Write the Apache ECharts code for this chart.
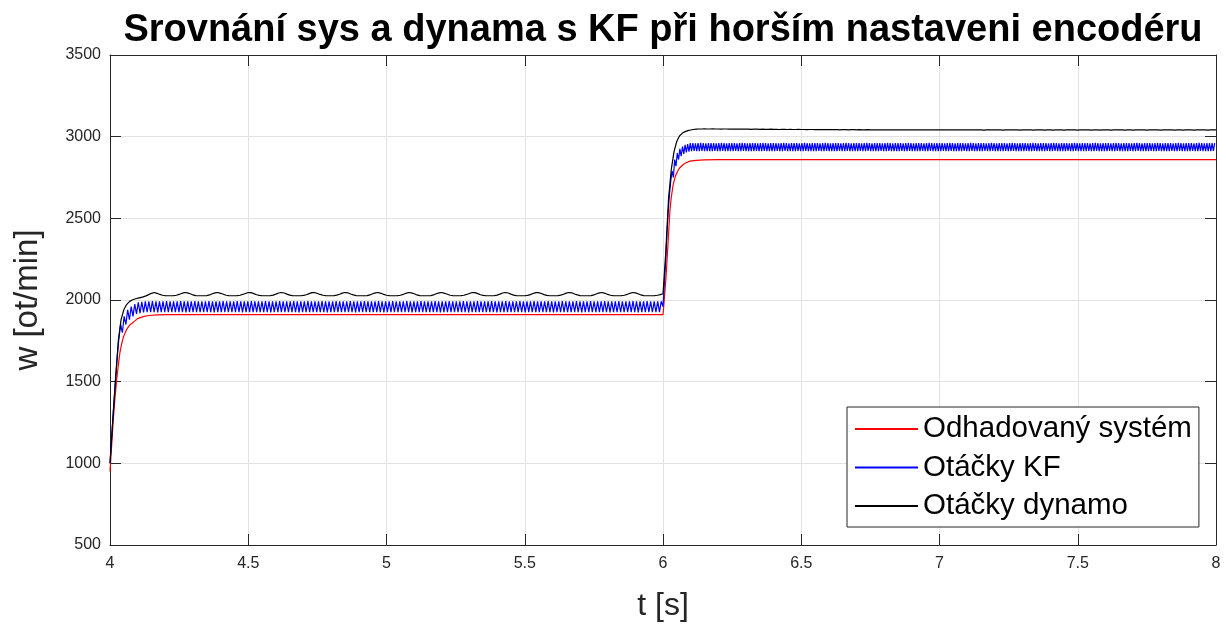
<!DOCTYPE html>
<html>
<head>
<meta charset="utf-8">
<script src="https://cdn.jsdelivr.net/npm/echarts@6/dist/echarts.min.js"></script>
<style>html,body{margin:0;padding:0;background:#fff;}#chart{width:1226px;height:630px;}</style>
</head>
<body>
<div id="chart"></div>
<script>
// ---- Data ----
const titleText = 'Srovnání sys a dynama s KF při horším nastaveni encodéru';
const seriesNames = ['Odhadovaný systém', 'Otáčky KF', 'Otáčky dynamo'];
const seriesColors = ['#ff0000', '#0000ff', '#000000'];
const xTicks = [4, 4.5, 5, 5.5, 6, 6.5, 7, 7.5, 8];
const yTicks = [500, 1000, 1500, 2000, 2500, 3000, 3500];

// Odhadovaný systém: time / value pairs
const redT = [4.000,4.006,4.012,4.018,4.024,4.030,4.036,4.042,4.048,4.056,4.064,4.072,4.080,4.090,4.100,4.120,4.140,4.170,4.220,6.000,6.005,6.010,6.013,6.020,6.025,6.030,6.037,6.045,6.055,6.061,6.070,6.080,6.097,6.120,6.150,6.200,8.000];
const redV = [950,1110,1270,1400,1510,1600,1680,1730,1770,1805,1830,1848,1858,1872,1886,1898,1905,1909,1910,1910,2010,2120,2197,2400,2545,2630,2708,2760,2795,2810,2825,2837,2850,2855,2858,2860,2860];

// Otáčky KF: samples evenly spaced over 4..6 s and 6..8 s
const blueSeg1 = [1000,1170,1340,1500,1640,1760,1850,1800,1900,1850,1940,1880,1960,1900,1975,1915,1985,1920,1988,1924,
1992,1925,1991,1926,1993,1925,1992,1924,1991,1926,1992,1925,1993,1926,1991,1925,
1992,1925,1991,1926,1993,1925,1992,1924,1991,1926,1992,1925,1993,1926,1991,1925,
1992,1925,1991,1926,1993,1925,1992,1924,1991,1926,1992,1925,1993,1926,1991,1925,
1992,1925,1991,1926,1993,1925,1992,1924,1991,1926,1992,1925,1993,1926,1991,1925,
1992,1925,1991,1926,1993,1925,1992,1924,1991,1926,1992,1925,1993,1926,1991,1925,
1992,1925,1991,1926,1993,1925,1992,1924,1991,1926,1992,1925,1993,1926,1991,1925,
1992,1925,1991,1926,1993,1925,1992,1924,1991,1926,1992,1925,1993,1926,1991,1925,
1992,1925,1991,1926,1993,1925,1992,1924,1991,1926,1992,1925,1993,1926,1991,1925,
1992,1925,1991,1926,1993,1925,1992,1924,1991,1926,1992,1925,1993,1926,1991,1925,
1992,1925,1991,1926,1993,1925,1992,1924,1991,1926,1992,1925,1993,1926,1991,1925,
1992,1925,1991,1926,1993,1925,1992,1924,1991,1926,1992,1925,1993,1926,1991,1925,
1992,1925,1991,1926,1993,1925,1992,1924,1991,1926,1992,1925,1993,1926,1991,1925,
1992,1925,1991,1926,1993,1925,1992,1924,1991,1926,1992,1925,1993,1926,1991,1925,
1992,1925,1991,1926,1993,1925,1992,1924,1991,1926,1992,1925,1993,1926,1991,1925,
1992,1925,1991,1926,1993,1925,1992,1924,1991,1926,1992,1925,1993,1926,1991,1925,
1992,1925,1991,1926,1993,1925,1992,1924,1991,1926,1992,1925,1993,1926,1991,1925,
1992,1925,1991,1926,1993,1925,1992,1924,1991,1926,1992,1925,1993,1926,1991,1925,
1992,1925,1991,1926,1993,1925,1992,1924,1991,1926,1992,1925,1993,1926,1991,1925,
1992,1925,1991,1926,1992];
const blueSeg2 = [1960,2100,2230,2400,2540,2650,2730,2790,2750,2860,2820,2900,2860,2925,2880,2940,2895,2950,2903,2955,2908,
2960,2912,2961,2913,2959,2911,2960,2912,2962,2913,2960,2911,2959,2912,2961,2912,
2960,2912,2961,2913,2959,2911,2960,2912,2962,2913,2960,2911,2959,2912,2961,2912,
2960,2912,2961,2913,2959,2911,2960,2912,2962,2913,2960,2911,2959,2912,2961,2912,
2960,2912,2961,2913,2959,2911,2960,2912,2962,2913,2960,2911,2959,2912,2961,2912,
2960,2912,2961,2913,2959,2911,2960,2912,2962,2913,2960,2911,2959,2912,2961,2912,
2960,2912,2961,2913,2959,2911,2960,2912,2962,2913,2960,2911,2959,2912,2961,2912,
2960,2912,2961,2913,2959,2911,2960,2912,2962,2913,2960,2911,2959,2912,2961,2912,
2960,2912,2961,2913,2959,2911,2960,2912,2962,2913,2960,2911,2959,2912,2961,2912,
2960,2912,2961,2913,2959,2911,2960,2912,2962,2913,2960,2911,2959,2912,2961,2912,
2960,2912,2961,2913,2959,2911,2960,2912,2962,2913,2960,2911,2959,2912,2961,2912,
2960,2912,2961,2913,2959,2911,2960,2912,2962,2913,2960,2911,2959,2912,2961,2912,
2960,2912,2961,2913,2959,2911,2960,2912,2962,2913,2960,2911,2959,2912,2961,2912,
2960,2912,2961,2913,2959,2911,2960,2912,2962,2913,2960,2911,2959,2912,2961,2912,
2960,2912,2961,2913,2959,2911,2960,2912,2962,2913,2960,2911,2959,2912,2961,2912,
2960,2912,2961,2913,2959,2911,2960,2912,2962,2913,2960,2911,2959,2912,2961,2912,
2960,2912,2961,2913,2959,2911,2960,2912,2962,2913,2960,2911,2959,2912,2961,2912,
2960,2912,2961,2913,2959,2911,2960,2912,2962,2913,2960,2911,2959,2912,2961,2912,
2960,2912,2961,2913,2959,2911,2960,2912,2962,2913,2960,2911,2959,2912,2961,2912,
2960,2912,2961,2913,2959,2911,2960,2912,2962,2913,2960,2911,2959,2912,2961,2912,
2960,2912,2961,2913,2959,2911,2960,2912,2962,2913,2960,2911,2959,2912,2961,2912,
2960,2912,2961,2913,2959,2911,2960,2912,2962,2913,2960,2911,2959,2912,2961,2912,
2960,2912,2961,2913,2959,2911,2960,2912,2962,2913,2960,2911,2959,2912,2961,2912,
2960,2912,2961,2913,2959,2911,2960,2912,2962,2913,2960,2911,2959,2912,2961,2912,
2960,2912,2961,2913,2959,2911,2960,2912,2962,2913,2960,2911,2959,2912,2961,2912,
2960,2912,2961,2913,2959,2911,2960,2912,2962,2913,2960,2911,2959,2912,2961,2912,
2960,2912,2961,2913,2960];

// Otáčky dynamo: samples every 0.01 s from 4.00 to 8.00 s
const blackV = [
1000,1260,1510,1750,1880,1940,1972,1990,2000,2006,
2011,2015,2019,2025,2033,2041,2046,2041,2034,2029,
2027,2026,2026,2027,2029,2034,2041,2046,2044,2038,
2031,2027,2026,2026,2026,2027,2031,2038,2044,2046,
2041,2035,2029,2027,2026,2026,2027,2029,2034,2040,
2046,2045,2039,2032,2028,2026,2026,2026,2027,2030,
2036,2043,2046,2043,2036,2030,2027,2026,2026,2026,
2028,2032,2039,2045,2046,2040,2034,2029,2027,2026,
2026,2027,2030,2035,2042,2046,2044,2037,2031,2027,
2026,2026,2026,2027,2031,2038,2044,2046,2041,2034,
2029,2027,2026,2026,2027,2029,2034,2041,2046,2044,
2038,2031,2027,2026,2026,2026,2027,2031,2038,2044,
2046,2041,2035,2029,2027,2026,2026,2027,2029,2034,
2040,2046,2045,2039,2032,2028,2026,2026,2026,2027,
2030,2036,2043,2046,2043,2036,2030,2027,2026,2026,
2026,2028,2033,2040,2045,2045,2040,2033,2028,2026,
2026,2026,2027,2030,2035,2042,2046,2044,2037,2031,
2027,2026,2026,2026,2027,2031,2038,2044,2046,2041,
2034,2029,2027,2026,2026,2027,2029,2034,2041,2046,
2044,2038,2031,2027,2026,2026,2026,2027,2029,2033,
2038,2290,2620,2800,2910,2972,3005,3022,3031,3037,
3041,3044,3046,
3047,3047,3048,3047,3047,3048,3047,
3047,3046,3047,3047,3046,3047,3046,3046,3047,3046,
3046,3046,3045,3046,3046,3045,3046,3045,3045,3046,
3045,3045,3044,3045,3045,3044,3045,3044,3044,3045,
3044,3044,3043,3044,3044,3043,3044,3043,3044,3043,
3043,3044,3043,3043,3042,3043,3043,3042,3043,3043,
3042,3043,3042,3042,3043,3042,3042,3041,3042,3042,
3042,3041,3042,3042,3041,3042,3042,3041,3042,3041,
3042,3041,3042,3041,3041,3042,3041,3042,3041,3041,
3042,3041,3041,3042,3041,3041,3042,3041,3041,3042,
3041,3042,3041,3041,3042,3041,3040,3041,3042,3041,
3041,3042,3041,3040,3041,3041,3042,3041,3041,3040,
3041,3042,3041,3041,3040,3041,3042,3041,3040,3041,
3041,3040,3041,3042,3041,3040,3041,3041,3042,3041,
3040,3041,3041,3042,3041,3040,3041,3041,3040,3041,
3042,3041,3040,3041,3041,3042,3041,3040,3041,3041,
3040,3041,3042,3041,3041,3040,3041,3041,3042,3041,
3040,3041,3041,3042,3041,3040,3041,3041,3040,3041,
3042,3041,3040,3041,3041,3042,3041,3040,3041,3041,3041];

// ---- Build series data ----
function evenSpaced(vals, t0, t1, includeEnd) {
  const n = includeEnd ? vals.length - 1 : vals.length;
  const dt = (t1 - t0) / n;
  return vals.map((v, i) => [t0 + i * dt, v]);
}
const redData = redT.map((t, i) => [t, redV[i]]);
const blueData = evenSpaced(blueSeg1, 4, 6, false).concat(evenSpaced(blueSeg2, 6, 8, false));
const blackData = evenSpaced(blackV, 4, 8, true);

const FONT = 'Liberation Sans, Arial, Helvetica, sans-serif';
const AX = '#262626';
const GRIDC = '#e2e2e2';
const plain = v => String(v);

const chart = echarts.init(document.getElementById('chart'), null, {renderer: 'canvas'});
const axisCommonX = {
  type: 'value', min: xTicks[0], max: xTicks[xTicks.length - 1], interval: xTicks[1] - xTicks[0]
};
const axisCommonY = {
  type: 'value', min: yTicks[0], max: yTicks[yTicks.length - 1], interval: yTicks[1] - yTicks[0]
};
chart.setOption({
  animation: false,
  backgroundColor: '#ffffff',
  color: seriesColors,
  graphic: [{
    type: 'text', x: 663, y: 31, z: 100,
    style: {
      text: titleText, fontSize: 38, fontWeight: 'bold', fontFamily: FONT,
      fill: '#000', align: 'center', verticalAlign: 'middle'
    }
  }],
  grid: {left: 110, right: 10, top: 55, bottom: 85, containLabel: false},
  legend: {
    orient: 'vertical', left: 847, top: 407,
    itemWidth: 63, itemHeight: 14, itemGap: 8.5,
    padding: [7, 7, 6, 7],
    backgroundColor: '#ffffff', borderColor: AX, borderWidth: 1, borderRadius: 0,
    itemStyle: {opacity: 0},
    textStyle: {fontSize: 29.5, fontFamily: FONT, color: '#000', lineHeight: 30},
    data: seriesNames
  },
  xAxis: [
    Object.assign({}, axisCommonX, {
      position: 'bottom',
      axisLine: {show: true, onZero: false, lineStyle: {color: AX, width: 1}},
      axisTick: {show: true, inside: true, length: 11, lineStyle: {color: AX, width: 1}},
      axisLabel: {color: AX, fontSize: 16, fontFamily: FONT, margin: 11, formatter: plain},
      splitLine: {show: true, lineStyle: {color: GRIDC, width: 1}},
      name: 't [s]', nameLocation: 'middle', nameGap: 45,
      nameTextStyle: {fontSize: 32, fontFamily: FONT, color: AX}
    }),
    Object.assign({}, axisCommonX, {
      position: 'top',
      axisLine: {show: true, onZero: false, lineStyle: {color: AX, width: 1}},
      axisTick: {show: true, inside: true, length: 11, lineStyle: {color: AX, width: 1}},
      axisLabel: {show: false}, splitLine: {show: false}
    })
  ],
  yAxis: [
    Object.assign({}, axisCommonY, {
      position: 'left',
      axisLine: {show: true, onZero: false, lineStyle: {color: AX, width: 1}},
      axisTick: {show: true, inside: true, length: 11, lineStyle: {color: AX, width: 1}},
      axisLabel: {color: AX, fontSize: 16, fontFamily: FONT, margin: 9, formatter: plain},
      splitLine: {show: true, lineStyle: {color: GRIDC, width: 1}},
      name: 'w [ot/min]', nameLocation: 'middle', nameGap: 66, nameRotate: 90,
      nameTextStyle: {fontSize: 33, fontFamily: FONT, color: AX}
    }),
    Object.assign({}, axisCommonY, {
      position: 'right',
      axisLine: {show: true, onZero: false, lineStyle: {color: AX, width: 1}},
      axisTick: {show: true, inside: true, length: 11, lineStyle: {color: AX, width: 1}},
      axisLabel: {show: false}, splitLine: {show: false}
    })
  ],
  series: [
    {name: seriesNames[0], type: 'line', data: redData, symbol: 'none', showSymbol: false,
     itemStyle: {color: seriesColors[0]}, lineStyle: {color: seriesColors[0], width: 1.2}, z: 2, clip: true},
    {name: seriesNames[1], type: 'line', data: blueData, symbol: 'none', showSymbol: false,
     itemStyle: {color: seriesColors[1]}, lineStyle: {color: seriesColors[1], width: 1.2}, z: 3, clip: true},
    {name: seriesNames[2], type: 'line', data: blackData, symbol: 'none', showSymbol: false,
     itemStyle: {color: seriesColors[2]}, lineStyle: {color: seriesColors[2], width: 1.2}, z: 4, clip: true}
  ]
});
</script>
</body>
</html>
